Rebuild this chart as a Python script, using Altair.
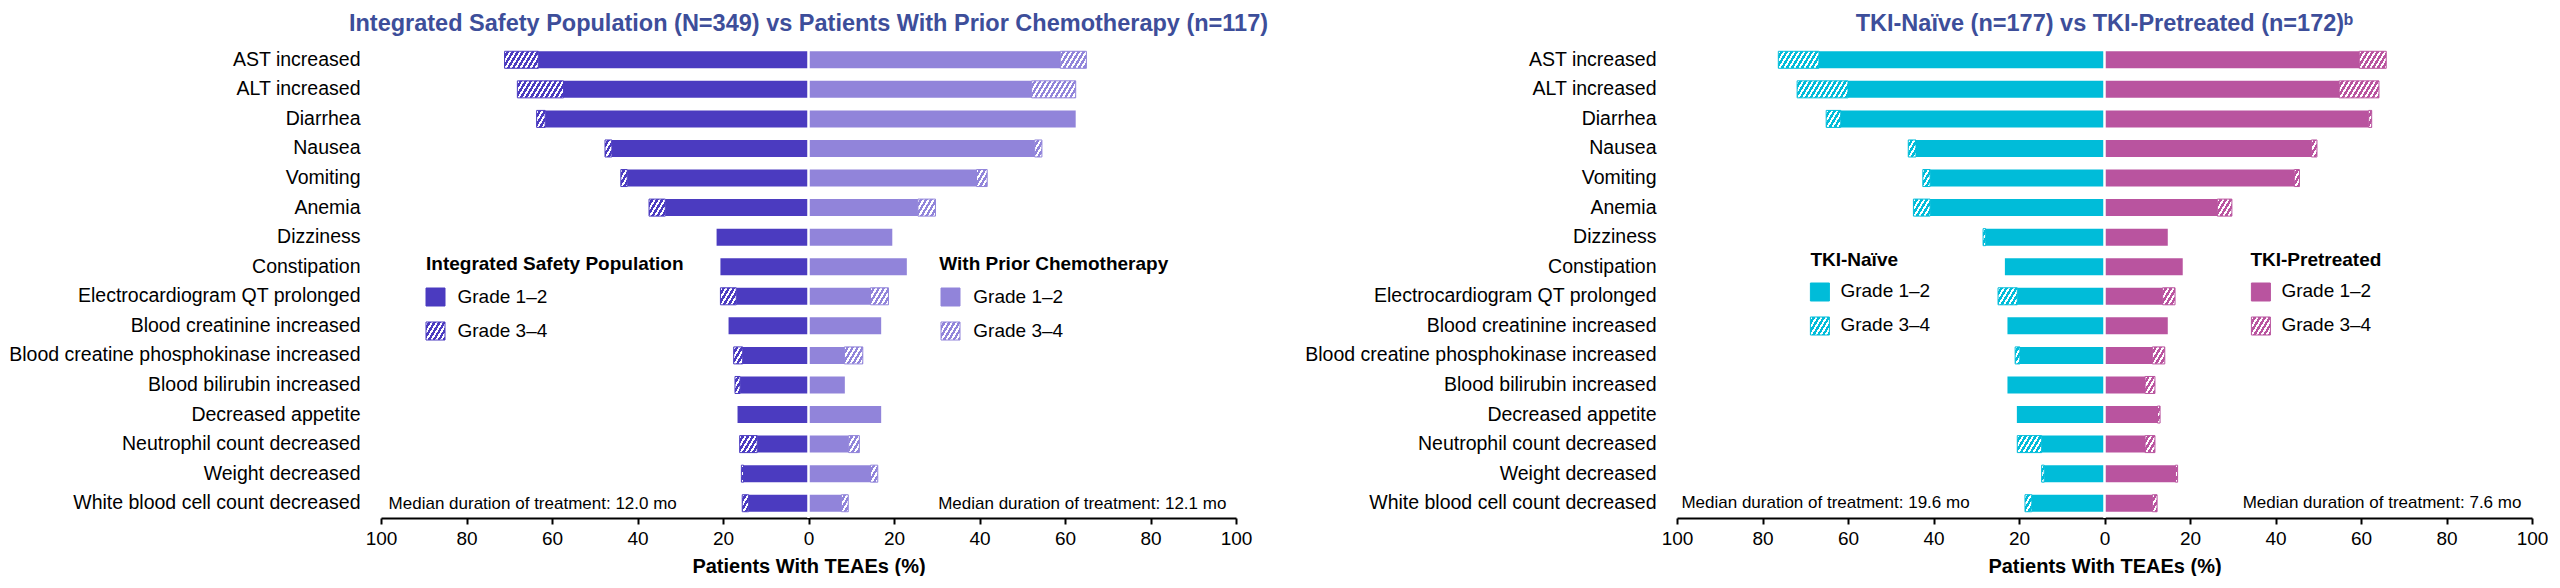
import altair as alt
import pandas as pd

# ---------------- data ----------------
categories = [
    "AST increased", "ALT increased", "Diarrhea", "Nausea", "Vomiting", "Anemia",
    "Dizziness", "Constipation", "Electrocardiogram QT prolonged",
    "Blood creatinine increased", "Blood creatine phosphokinase increased",
    "Blood bilirubin increased", "Decreased appetite", "Neutrophil count decreased",
    "Weight decreased", "White blood cell count decreased",
]

# Integrated Safety Population (N=349)
isp_g12 = [63.2, 57.3, 61.6, 46.0, 42.4, 33.5, 21.5, 20.6, 16.9, 18.7, 15.4, 16.0, 16.6, 12.0, 15.2, 14.0]
isp_g34 = [7.9, 10.8, 2.0, 1.6, 1.5, 3.8, 0.0, 0.0, 3.7, 0.0, 2.1, 1.2, 0.0, 4.1, 0.5, 1.5]
# Patients With Prior Chemotherapy (n=117)
chemo_g12 = [58.9, 52.2, 62.5, 52.9, 39.3, 25.6, 19.6, 23.0, 14.5, 17.0, 8.4, 8.5, 17.0, 9.4, 14.5, 7.7]
chemo_g34 = [6.1, 10.3, 0.0, 1.7, 2.5, 4.1, 0.0, 0.0, 4.2, 0.0, 4.3, 0.0, 0.0, 2.5, 1.7, 1.6]
# TKI-Naive (n=177)
naive_g12 = [66.8, 60.0, 61.7, 44.1, 40.8, 40.8, 27.8, 23.3, 20.4, 22.7, 19.8, 22.7, 20.5, 14.7, 14.1, 17.0]
naive_g34 = [9.5, 11.9, 3.4, 1.8, 1.7, 3.9, 0.6, 0.0, 4.5, 0.0, 1.1, 0.0, 0.0, 5.7, 0.6, 1.6]
# TKI-Pretreated (n=172)
pre_g12 = [59.6, 54.9, 61.8, 48.4, 44.4, 26.4, 14.8, 18.3, 13.6, 14.8, 11.2, 9.5, 12.4, 9.5, 16.6, 11.2]
pre_g34 = [6.3, 9.3, 0.7, 1.3, 1.2, 3.4, 0.0, 0.0, 2.9, 0.0, 2.9, 2.3, 0.6, 2.3, 0.5, 1.1]

tick_values = [-100, -80, -60, -40, -20, 0, 20, 40, 60, 80, 100]
grade_labels = ["Grade 1\u20132", "Grade 3\u20134"]

# ---------------- style ----------------
FONT = "Liberation Sans"
TITLE_COLOR = "#3D4E9A"
C_ISP = "#4B3BC0"
C_CHEMO = "#9184DA"
C_NAIVE = "#00BCD9"
C_PRE = "#B9549F"
W, H = 855, 473
BAR = 17
PX_PER_UNIT = W / 200.0


def hatch(color, w, h, period=5.0, white=0.45, a=0.6):
    """Diagonal white stripes as a hard-stop linear gradient (bbox units)."""
    w = max(w, 0.5)
    L = w + a * h
    dx = L * w / (w * w + a * a * h * h)
    dy = a * h * dx / w
    stops = []
    k = 0
    while k * period < L:
        s = k * period
        m = min(s + white * period, L)
        e = min((k + 1) * period, L)
        for o, c in [(s, "white"), (m, "white"), (m, color), (e, color)]:
            stops.append({"offset": round(min(o / L, 1.0), 4), "color": c})
        k += 1
    return {"gradient": "linear", "x1": 0, "y1": 0,
            "x2": round(dx, 4), "y2": round(dy, 4), "stops": stops}


xscale = alt.Scale(domain=[-100, 100], nice=False, zero=False)
yscale = alt.Scale(domain=categories)

x_axis = alt.Axis(values=tick_values, labelExpr="abs(datum.value)",
                  grid=False, domainColor="black", domainWidth=2,
                  tickColor="black", tickWidth=2, tickSize=6,
                  labelFontSize=19, labelColor="black", labelPadding=5,
                  labelFlush=False, labelOverlap=False,
                  labelFont=FONT, title="Patients With TEAEs (%)",
                  titleFontSize=20, titleFontWeight="bold",
                  titleColor="black", titlePadding=8, titleFont=FONT)
y_axis = alt.Axis(domain=False, ticks=False, labelFontSize=19.5,
                  labelColor="black", labelPadding=21, labelLimit=0,
                  labelFont=FONT, title=None)


def panel(title, lname, lg12, lg34, lcol, rname, rg12, rg34, rcol,
          lmed, rmed, leg):
    rows = []
    for side, g12, g34, sign in [(lname, lg12, lg34, -1), (rname, rg12, rg34, 1)]:
        for c, a, b in zip(categories, g12, g34):
            rows.append({"cat": c, "side": side, "x0": 0.0, "x1": sign * a,
                         "x2": sign * (a + b), "g34": b})
    df = pd.DataFrame(rows)

    layers = []
    for side, col in [(lname, lcol), (rname, rcol)]:
        layers.append(
            alt.Chart(df[df["side"] == side]).mark_bar(size=BAR, color=col).encode(
                y=alt.Y("cat:N", scale=yscale, axis=y_axis, title=None),
                x=alt.X("x0:Q", scale=xscale, axis=x_axis),
                x2="x1:Q",
            )
        )

    for _, r in df[df["g34"] > 0].iterrows():
        col = lcol if r["side"] == lname else rcol
        grad = hatch(col, r["g34"] * PX_PER_UNIT, BAR)
        layers.append(
            alt.Chart(pd.DataFrame([r.to_dict()])).mark_bar(
                size=BAR, fill=grad, stroke=col, strokeWidth=1
            ).encode(
                y=alt.Y("cat:N", scale=yscale, axis=y_axis, title=None),
                x=alt.X("x1:Q", scale=xscale, axis=x_axis),
                x2="x2:Q",
            )
        )

    zero = alt.Chart(pd.DataFrame({"z": [0]})).mark_rule(color="white", strokeWidth=2.5).encode(
        x=alt.X("z:Q", scale=xscale, axis=x_axis)
    )
    layers.append(zero)

    one = pd.DataFrame({"a": [0]})

    def txt(s, x, y, size=19, bold=False, align="left", color="black", baseline="middle"):
        return alt.Chart(one).mark_text(
            text=s, align=align, baseline=baseline, fontSize=size,
            fontWeight="bold" if bold else "normal", color=color, font=FONT
        ).encode(x=alt.value(x), y=alt.value(y))

    def box(x, y, col, hatched):
        fill = hatch(col, 19, 18) if hatched else col
        return alt.Chart(one).mark_rect(fill=fill, stroke=col, strokeWidth=1).encode(
            x=alt.value(x), x2=alt.value(x + 19), y=alt.value(y), y2=alt.value(y + 18)
        )

    for (name, col, tx, sx, lx, ty, y1, y2, t1, t2) in leg:
        layers.append(txt(name, tx, ty, bold=True))
        layers.append(box(sx, y1, col, False))
        layers.append(box(sx, y2, col, True))
        layers.append(txt(grade_labels[0], lx, t1))
        layers.append(txt(grade_labels[1], lx, t2))

    layers.append(txt(lmed[0], lmed[1], lmed[2], size=17))
    layers.append(txt(rmed[0], rmed[1], rmed[2], size=17, align="right"))

    # panel title, drawn as text above the plot area
    layers.append(txt(title, W / 2, -14, size=23.5, bold=True, align="center",
                      color=TITLE_COLOR, baseline="alphabetic"))

    return alt.layer(*layers).properties(width=W, height=H)


left = panel(
    "Integrated Safety Population (N=349) vs Patients With Prior Chemotherapy (n=117)",
    "Integrated Safety Population", isp_g12, isp_g34, C_ISP,
    "With Prior Chemotherapy", chemo_g12, chemo_g34, C_CHEMO,
    ("Median duration of treatment: 12.0 mo", 7.6, 459.3),
    ("Median duration of treatment: 12.1 mo", 845.4, 459.3),
    [("Integrated Safety Population", C_ISP, 45, 45, 76.5, 218.5, 243, 277, 252, 285.5),
     ("With Prior Chemotherapy", C_CHEMO, 558.3, 560, 592.3, 218.5, 243, 277, 252, 285.5)],
)

right = panel(
    "TKI-Na\u00efve (n=177) vs TKI-Pretreated (n=172)\u1d47",
    "TKI-Na\u00efve", naive_g12, naive_g34, C_NAIVE,
    "TKI-Pretreated", pre_g12, pre_g34, C_PRE,
    ("Median duration of treatment: 19.6 mo", 4.4, 457.7),
    ("Median duration of treatment: 7.6 mo", 844.4, 457.7),
    [("TKI-Na\u00efve", C_NAIVE, 133.4, 133.4, 163.4, 214.7, 238, 272, 246, 280),
     ("TKI-Pretreated", C_PRE, 573.4, 574.4, 604.4, 214.7, 238, 272, 246, 280)],
)

chart = alt.hconcat(left, right, spacing=441, bounds="flush").configure(
    font=FONT, view=alt.ViewConfig(stroke=None)
).properties(
    padding={"left": 0, "top": 4, "right": 0, "bottom": 0}
)

chart.save("out.html", embed_options={"renderer": "svg", "actions": False})
